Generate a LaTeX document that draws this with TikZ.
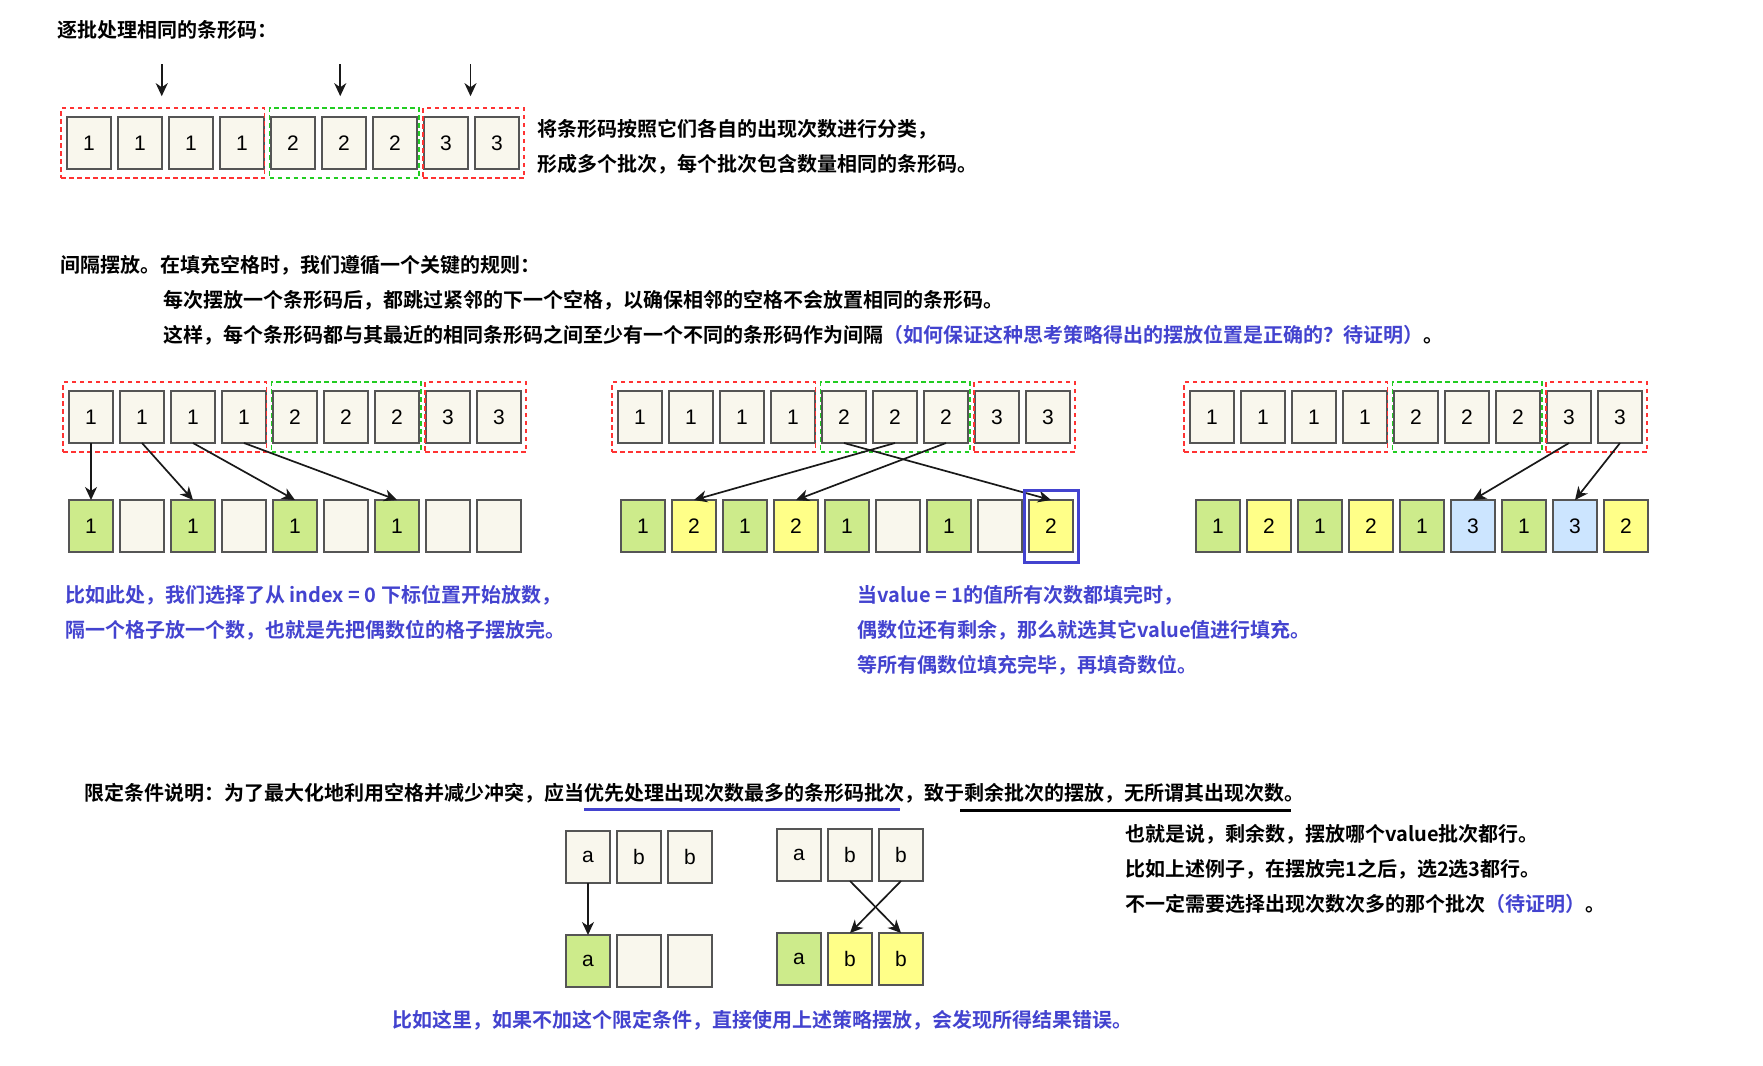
\documentclass[tikz,border=0pt]{standalone}
\usepackage{fontspec}
\setmainfont{Liberation Sans}
\newfontfamily\cjk{Noto Sans CJK SC}[BoldFont=* Bold]
\usetikzlibrary{arrows.meta,fit}

\definecolor{cellfill}{HTML}{F9F7ED}
\definecolor{cellline}{HTML}{555555}
\definecolor{gfill}{HTML}{CDEB8B}
\definecolor{yfill}{HTML}{FFFF88}
\definecolor{bfill}{HTML}{CCE5FF}
\definecolor{grpred}{HTML}{FF3333}
\definecolor{grpgreen}{HTML}{22CC22}
\definecolor{note}{HTML}{4343CF}

\tikzset{
  cell/.style={draw=cellline, line width=1.5pt, fill=cellfill, minimum width=44pt,
    minimum height=52pt, inner sep=0pt, outer sep=0pt, font=\fontsize{21}{21}\selectfont},
  redgrp/.style={draw=grpred, line width=1.6pt, dash pattern=on 4.5pt off 3.5pt, inner sep=0pt},
  greengrp/.style={draw=grpgreen, line width=1.6pt, dash pattern=on 4.5pt off 3.5pt, inner sep=0pt},
  arr/.style={-{Stealth[length=13pt,width=12pt,inset=4pt]}, line width=1.7pt, draw=black!90},
  txt/.style={anchor=west, inner sep=0pt, align=left, font=\cjk\bfseries\fontsize{20}{35}\selectfont},
}

\begin{document}
\begin{tikzpicture}[x=1pt,y=-1pt]
\useasboundingbox (0,0) rectangle (1763,1065);

% batches
\node[txt] (h1) at (57,30) {逐批处理相同的条形码：};
\foreach \v [count=\i from 0] in {1,1,1,1,2,2,2,3,3}
  \node[cell] (s\i) at (89+51*\i,143) {\v};
\node[redgrp, fit={([shift={(-6pt,9pt)}]s0.north west) ([shift={(0.5pt,-9pt)}]s3.south east)}] (k1) {};
\node[greengrp, fit={([shift={(-1.5pt,9pt)}]s4.north west) ([shift={(2pt,-9pt)}]s6.south east)}] (k2) {};
\node[redgrp, fit={([shift={(-1pt,9pt)}]s7.north west) ([shift={(5pt,-9pt)}]s8.south east)}] (k3) {};
\foreach \k/\dx in {k1/-1,k2/-4,k3/-3}
  \draw[arr] ([shift={(\dx pt,43pt)}]\k.north) -- ([shift={(\dx pt,11pt)}]\k.north);
\node[txt] (h2) at (537,146.5) {将条形码按照它们各自的出现次数进行分类，\\形成多个批次，每个批次包含数量相同的条形码。};

% spacing rule
\node[txt] (h3) at (60,265) {间隔摆放。在填充空格时，我们遵循一个关键的规则：};
\node[txt] (h4) at (163,317.5) {每次摆放一个条形码后，都跳过紧邻的下一个空格，以确保相邻的空格不会放置相同的条形码。\\这样，每个条形码都与其最近的相同条形码之间至少有一个不同的条形码作为间隔{\color{note}（如何保证这种思考策略得出的摆放位置是正确的？待证明）}。};

\foreach \p/\x in {L/91,M/640,R/1212}{
  \foreach \v [count=\i from 0] in {1,1,1,1,2,2,2,3,3}
    \node[cell] (\p\i) at (\x+51*\i,417) {\v};
  \node[redgrp, fit={([shift={(-6pt,9pt)}]\p0.north west) ([shift={(0.5pt,-9pt)}]\p3.south east)}] (\p k1) {};
  \node[greengrp, fit={([shift={(-1.5pt,9pt)}]\p4.north west) ([shift={(2pt,-9pt)}]\p6.south east)}] (\p k2) {};
  \node[redgrp, fit={([shift={(-1pt,9pt)}]\p7.north west) ([shift={(5pt,-9pt)}]\p8.south east)}] (\p k3) {};
}

\foreach \c/\v [count=\i from 0] in {gfill/1,cellfill/{},gfill/1,cellfill/{},gfill/1,cellfill/{},gfill/1,cellfill/{},cellfill/{}}
  \node[cell, fill=\c] (Lb\i) at (91+51*\i,526) {\v};
\foreach \c/\v [count=\i from 0] in {gfill/1,yfill/2,gfill/1,yfill/2,gfill/1,cellfill/{},gfill/1,cellfill/{},yfill/2}
  \node[cell, fill=\c] (Mb\i) at (643+51*\i,526) {\v};
\foreach \c/\v [count=\i from 0] in {gfill/1,yfill/2,gfill/1,yfill/2,gfill/1,bfill/3,gfill/1,bfill/3,yfill/2}
  \node[cell, fill=\c] (Rb\i) at (1218+51*\i,526) {\v};

\foreach \i/\j in {0/0,1/2,2/4,3/6}
  \draw[arr] (L\i.south) -- (Lb\j.north);
\foreach \i/\j in {4/8,5/1,6/3}
  \draw[arr] (M\i.south) -- (Mb\j.north);
\foreach \i/\j in {7/5,8/7}
  \draw[arr] (R\i.south) -- (Rb\j.north);
\node[draw=note, line width=3pt, fit=(Mb8), inner xsep=5pt, inner ysep=10pt] (hl) {};

\node[txt, text=note] (n1) at (65,613) {比如此处，我们选择了从 index = 0 下标位置开始放数，\\隔一个格子放一个数，也就是先把偶数位的格子摆放完。};
\node[txt, text=note] (n2) at (857,630) {当value = 1的值所有次数都填完时，\\偶数位还有剩余，那么就选其它value值进行填充。\\等所有偶数位填充完毕，再填奇数位。};

% constraint
\node[txt] (h5) at (84,793) {限定条件说明：为了最大化地利用空格并减少冲突，应当优先处理出现次数最多的条形码批次，致于剩余批次的摆放，无所谓其出现次数。};
\draw[note, line width=3pt] (584,809) -- (900,809);
\draw[line width=3pt] (960,810) -- (1291,810);

\foreach \v [count=\i from 0] in {a,b,b}
  \node[cell] (P\i) at (588+51*\i,857) {\v};
\foreach \c/\v [count=\i from 0] in {gfill/a,cellfill/{},cellfill/{}}
  \node[cell, fill=\c] (Pb\i) at (588+51*\i,961) {\v};
\draw[arr] (P0.south) -- (Pb0.north);

\foreach \v [count=\i from 0] in {a,b,b}
  \node[cell] (Q\i) at (799+51*\i,855) {\v};
\foreach \c/\v [count=\i from 0] in {gfill/a,yfill/b,yfill/b}
  \node[cell, fill=\c] (Qb\i) at (799+51*\i,959) {\v};
\draw[arr] (Q1.south) -- (Qb2.north);
\draw[arr] (Q2.south) -- (Qb1.north);

\node[txt] (h6) at (1125,869) {也就是说，剩余数，摆放哪个value批次都行。\\比如上述例子，在摆放完1之后，选2选3都行。\\不一定需要选择出现次数次多的那个批次{\color{note}（待证明）}。};
\node[txt, text=note] (n3) at (392,1020) {比如这里，如果不加这个限定条件，直接使用上述策略摆放，会发现所得结果错误。};
\end{tikzpicture}
\end{document}
